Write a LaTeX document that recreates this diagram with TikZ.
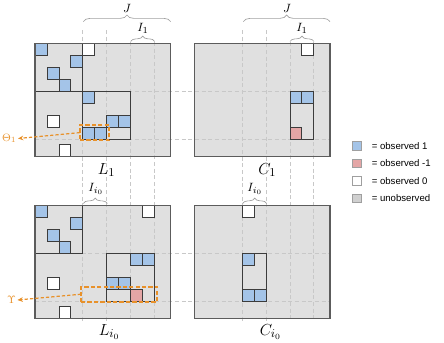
\documentclass[tikz,border=0pt]{standalone}
\usepackage{fontspec}
\newfontfamily\legendfont{Liberation Sans}
\usetikzlibrary{decorations.pathreplacing,arrows.meta}
\definecolor{cblue}{HTML}{A4C4E8}
\definecolor{cred}{HTML}{E4A6A6}
\definecolor{cgrey}{HTML}{E0E0E0}
\definecolor{lgrey}{HTML}{D0D0D0}
\definecolor{cline}{HTML}{3C3C3C}
\definecolor{mline}{HTML}{5C5C5C}
\definecolor{dline}{HTML}{C8C8C8}
\definecolor{corange}{HTML}{E8912A}
\newcommand\mkcell[3]{\path[#1] (#2,#3) rectangle ++(1,1);}
\tikzset{
  cellunits/.style={x=8.9625pt,y=-8.9625pt},
  matfill/.style={fill=cgrey},
  matborder/.style={draw=mline, line width=0.9pt},
  bluecell/.style={fill=cblue, draw=cline, line width=0.6pt},
  redcell/.style={fill=cred, draw=cline, line width=0.6pt},
  whitecell/.style={fill=white, draw=cline, line width=0.6pt},
  blockline/.style={draw=cline, line width=0.6pt},
  guide/.style={draw=dline, dash pattern=on 3pt off 2pt, line width=0.5pt},
  obox/.style={draw=corange, dash pattern=on 3.2pt off 1.6pt, line width=1.4pt, inner sep=0pt, outer sep=0pt, rectangle, minimum height=11.25pt},
  oarrow/.style={draw=corange, dash pattern=on 2.5pt off 1.5pt, line width=0.9pt, -{Stealth[length=4pt,width=3.5pt]}},
  olabel/.style={text=corange, inner sep=1pt, font=\fontsize{8.5}{10}\selectfont},
  brc/.style={draw=gray!75, line width=0.5pt, decorate, decoration={brace, amplitude=#1}},
  brc/.default=4pt,
  setlabel/.style={inner sep=0pt, font=\fontsize{9.5}{11}\selectfont},
  matlabel/.style={inner sep=0pt, anchor=base west, font=\fontsize{12.5}{14}\selectfont},
  legsq/.style={draw=gray!75, line width=0.5pt, minimum size=6.6pt, inner sep=0pt},
  legtext/.style={anchor=west, inner sep=0pt, font=\legendfont\fontsize{7.2}{8.6}\selectfont},
}
\begin{document}
\begin{tikzpicture}[x=0.75pt,y=-0.75pt]
\useasboundingbox (0,0) rectangle (444,343);

% matrix fills
\begin{scope}[shift={(35,43.3)},cellunits]   \fill[matfill] (0,0) rectangle (11.36,9.47); \end{scope}
\begin{scope}[shift={(194.3,43.3)},cellunits]\fill[matfill] (0,0) rectangle (11.36,9.47); \end{scope}
\begin{scope}[shift={(35,205.7)},cellunits]  \fill[matfill] (0,0) rectangle (11.36,9.42); \end{scope}
\begin{scope}[shift={(194.3,205.7)},cellunits]\fill[matfill] (0,0) rectangle (11.36,9.42); \end{scope}

% guide lines
\foreach \gx in {82.8,106.7,242.1,266.0} {\draw[guide] (\gx,30) -- (\gx,321.7);}
\foreach \gx in {130.6,154.5,289.9,313.8} {\draw[guide] (\gx,42) -- (\gx,321.7);}
\foreach \gy in {91.1,138.9,253.5,301.3} {\draw[guide] (35,\gy) -- (330,\gy);}

% L_1
\begin{scope}[shift={(35,43.3)},cellunits]
  \mkcell{bluecell}{0}{0}\mkcell{bluecell}{3}{1}\mkcell{bluecell}{1}{2}\mkcell{bluecell}{2}{3}
  \mkcell{bluecell}{4}{4}\mkcell{bluecell}{6}{6}\mkcell{bluecell}{7}{6}
  \mkcell{bluecell}{4}{7}\mkcell{bluecell}{5}{7}
  \mkcell{whitecell}{4}{0}\mkcell{whitecell}{1}{6}\mkcell{whitecell}{2}{8.47}
  \draw[blockline] (4,0) -- (4,4) -- (0,4);
  \draw[blockline] (4,4) rectangle (8,8);
  \draw[matborder] (0,0) rectangle (11.36,9.47);
\end{scope}

% C_1
\begin{scope}[shift={(194.3,43.3)},cellunits]
  \mkcell{whitecell}{9}{0}
  \mkcell{bluecell}{8}{4}\mkcell{bluecell}{9}{4}\mkcell{redcell}{8}{7}
  \draw[blockline] (8,4) rectangle (10,8);
  \draw[matborder] (0,0) rectangle (11.36,9.47);
\end{scope}

% L_{i0}
\begin{scope}[shift={(35,205.7)},cellunits]
  \mkcell{bluecell}{0}{0}\mkcell{bluecell}{3}{1}\mkcell{bluecell}{1}{2}\mkcell{bluecell}{2}{3}
  \mkcell{bluecell}{8}{4}\mkcell{bluecell}{9}{4}\mkcell{bluecell}{6}{6}\mkcell{bluecell}{7}{6}
  \mkcell{redcell}{8}{7}
  \mkcell{whitecell}{9}{0}\mkcell{whitecell}{1}{6}\mkcell{whitecell}{2}{8.42}
  \draw[blockline] (4,0) -- (4,4) -- (0,4);
  \draw[blockline] (6,4) rectangle (10,8);
  \draw[matborder] (0,0) rectangle (11.36,9.42);
\end{scope}

% C_{i0}
\begin{scope}[shift={(194.3,205.7)},cellunits]
  \mkcell{whitecell}{4}{0}
  \mkcell{bluecell}{4}{4}\mkcell{bluecell}{4}{7}\mkcell{bluecell}{5}{7}
  \draw[blockline] (4,4) rectangle (6,8);
  \draw[matborder] (0,0) rectangle (11.36,9.42);
\end{scope}

% orange selection boxes
\node[obox, minimum width=22pt] (thbox) at (94.6,132.6) {};
\node[obox, minimum width=57.2pt] (upbox) at (119.2,294.2) {};

% braces and set labels
\draw[brc=5pt] (83.3,21.7) -- (170.7,21.7);
\node[setlabel] (J1) at (127,8.5) {$J$};
\draw[brc=4pt] (130.7,41.5) -- (154.7,41.5);
\node[setlabel] (I1a) at (143,28.5) {$I_1$};
\draw[brc=5pt] (243.3,21.7) -- (330,21.7);
\node[setlabel] (J2) at (287,8.5) {$J$};
\draw[brc=4pt] (290,41.5) -- (314,41.5);
\node[setlabel] (I1b) at (302,28.5) {$I_1$};
\draw[brc=4pt] (83.3,203.5) -- (107.3,203.5);
\node[setlabel] (Ii0a) at (96,189) {$I_{i_0}$};
\draw[brc=4pt] (242.7,203.5) -- (266.7,203.5);
\node[setlabel] (Ii0b) at (255,189) {$I_{i_0}$};

% matrix labels
\node[matlabel] (labL1) at (97.5,174) {$L_1$};
\node[matlabel] (labC1) at (258,174) {$C_1$};
\node[matlabel] (labLi) at (98.5,335.5) {$L_{i_0}$};
\node[matlabel] (labCi) at (259.5,335.5) {$C_{i_0}$};

% orange annotations
\node[olabel, anchor=east] (thlab) at (18,138.5) {$\Theta_1$};
\draw[oarrow] (thbox.west) -- (thlab.east);
\node[olabel, anchor=east] (uplab) at (17.5,300) {$\Upsilon$};
\draw[oarrow] (upbox.west) -- (uplab.east);

% legend
\node[legsq, fill=cblue] (sq1) at (356.7,145.8) {};
\node[legtext] (lt1) at (371.5,145.8) {= observed 1};
\node[legsq, fill=cred] (sq2) at (356.7,163.3) {};
\node[legtext] (lt2) at (371.5,163.3) {= observed -1};
\node[legsq, fill=white] (sq3) at (356.7,180.8) {};
\node[legtext] (lt3) at (371.5,180.8) {= observed 0};
\node[legsq, fill=lgrey] (sq4) at (356.7,198.3) {};
\node[legtext] (lt4) at (371.5,198.3) {= unobserved};
\end{tikzpicture}
\end{document}
